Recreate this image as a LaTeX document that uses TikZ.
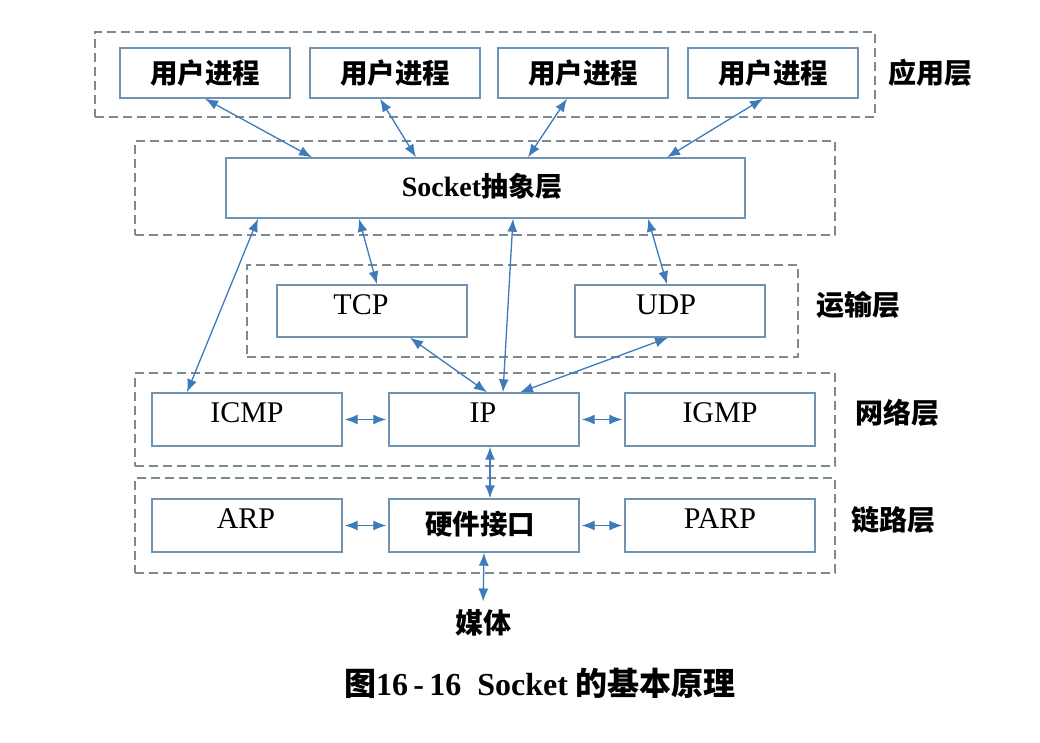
\documentclass[tikz,border=0pt]{standalone}
\usepackage{fontspec}
\setmainfont{Liberation Serif}
\newfontfamily\cjk{Noto Sans CJK SC}
\usetikzlibrary{arrows.meta,calc}
\definecolor{layergray}{HTML}{7E8A92}
\definecolor{boxline}{HTML}{6F93B0}
\definecolor{arrowblue}{HTML}{3D7BBA}
\tikzset{
  layerbox/.style={draw=layergray, line width=1.2pt, dash pattern=on 9pt off 5pt, inner sep=0pt},
  procbox/.style={draw=boxline, line width=1.4pt, fill=white, inner sep=0pt, minimum width=170pt, minimum height=50pt},
  protobox/.style={draw=boxline, line width=1.4pt, fill=white, inner sep=0pt, minimum width=190pt, minimum height=53pt},
  zh/.style={font=\cjk\bfseries\fontsize{27.5}{30}\selectfont},
  lat/.style={font=\fontsize{30}{32}\selectfont},
  lbl/.style={font=\cjk\bfseries\fontsize{28}{31}\selectfont, inner sep=0pt},
  conn/.style={draw=arrowblue, line width=1.3pt, {Latex[length=13pt,width=10pt]}-{Latex[length=13pt,width=10pt]}},
}
\begin{document}
\begin{tikzpicture}[x=1pt,y=-1pt]
\useasboundingbox (0,0) rectangle (1040,742);
\fill[white] (0,0) rectangle (1040,742);
% layer containers
\node[layerbox, minimum width=780pt, minimum height=85pt] (app) at (485,74.5) {};
\node[layerbox, minimum width=700pt, minimum height=94pt] (sockL) at (485,188) {};
\node[layerbox, minimum width=551pt, minimum height=92pt] (trans) at (522.5,311) {};
\node[layerbox, minimum width=700pt, minimum height=93pt] (net) at (485,419.5) {};
\node[layerbox, minimum width=700pt, minimum height=95pt] (link) at (485,525.5) {};
% user processes
\node[procbox, zh] (u1) at (205,73) {用户进程};
\node[procbox, zh] (u2) at (395,73) {用户进程};
\node[procbox, zh] (u3) at (583,73) {用户进程};
\node[procbox, zh] (u4) at (773,73) {用户进程};
% socket
\node[draw=boxline, line width=1.4pt, fill=white, inner sep=0pt, minimum width=519pt, minimum height=60pt] (sock) at (485.5,188) {};
\node (socktxt) at (482,186) {\fontsize{28}{30}\selectfont\bfseries Socket{\cjk\fontsize{27}{30}\selectfont 抽象层}};
% transport
\node[protobox, minimum height=52pt] (tcp) at (372,311) {};
\node[lat] (tcpt) at (361,305) {TCP};
\node[protobox, minimum height=52pt] (udp) at (670,311) {};
\node[lat] (udpt) at (666,305) {UDP};
% network
\node[protobox] (icmp) at (247,419.5) {};
\node[lat] (icmpt) at (247,413) {ICMP};
\node[protobox] (ip) at (484,419.5) {};
\node[lat] (ipt) at (483,413) {IP};
\node[protobox] (igmp) at (720,419.5) {};
\node[lat] (igmpt) at (720,413) {IGMP};
% link
\node[protobox] (arp) at (247,525.5) {};
\node[lat] (arpt) at (246,519) {ARP};
\node[protobox] (hw) at (484,525.5) {};
\node[zh] (hwt) at (480,524) {硬件接口};
\node[protobox] (parp) at (720,525.5) {};
\node[lat] (parpt) at (720,519) {PARP};
% labels
\node[lbl] (lapp) at (930,73) {应用层};
\node[lbl] (ltrans) at (858,305) {运输层};
\node[lbl] (lnet) at (897,413) {网络层};
\node[lbl] (llink) at (893,520) {链路层};
\node[lbl] (media) at (483,623) {媒体};
\node[font=\bfseries\fontsize{32}{34}\selectfont, inner sep=0pt] (cap) at (540,683) {{\cjk 图}16\,-\,16\ \ Socket {\cjk 的基本原理}};
% connectors
\draw[conn] ([xshift=0pt]u1.south) -- ([xshift=-173.5pt]sock.north);
\draw[conn] ([xshift=-15pt]u2.south) -- ([xshift=-69.5pt]sock.north);
\draw[conn] ([xshift=-16pt]u3.south) -- ([xshift=42.5pt]sock.north);
\draw[conn] ([xshift=-10pt]u4.south) -- ([xshift=181.5pt]sock.north);
\draw[conn] ([xshift=-227.5pt]sock.south) -- ([xshift=-60pt]icmp.north);
\draw[conn] ([xshift=-126.5pt]sock.south) -- ([xshift=5pt]tcp.north);
\draw[conn] ([xshift=27.5pt]sock.south) -- ([xshift=19pt]ip.north);
\draw[conn] ([xshift=162.5pt]sock.south) -- ([xshift=-3pt]udp.north);
\draw[conn] ([xshift=38pt]tcp.south) -- ([xshift=3pt]ip.north);
\draw[conn] ([xshift=-2pt]udp.south) -- ([xshift=36pt]ip.north);
\draw[conn, shorten <=2pt, shorten >=2pt] (icmp.east) -- (ip.west);
\draw[conn, shorten <=2pt, shorten >=2pt] (ip.east) -- (igmp.west);
\draw[conn] ([xshift=6pt]ip.south) -- ([xshift=6pt]hw.north);
\draw[conn, shorten <=2pt, shorten >=2pt] (arp.east) -- (hw.west);
\draw[conn, shorten <=2pt, shorten >=2pt] (hw.east) -- (parp.west);
\draw[conn, shorten >=8pt] (hw.south) -- (media.north);
\end{tikzpicture}
\end{document}
